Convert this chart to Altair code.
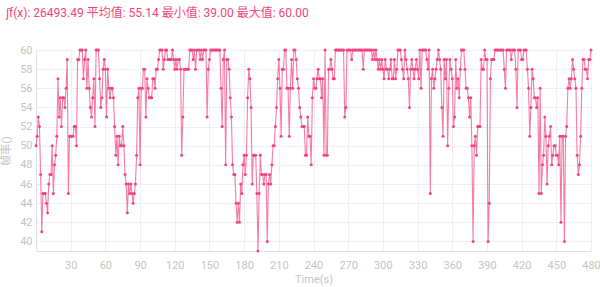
import altair as alt
import pandas as pd

# Frame rate sampled once per second over an 8-minute session
fps = [
    50, 51, 53, 52, 47, 41, 45, 45, 45, 44,
    43, 46, 47, 47, 50, 45, 48, 49, 51, 57,
    53, 55, 52, 55, 55, 54, 56, 59, 45, 51,
    51, 51, 51, 52, 52, 50, 59, 59, 60, 60,
    60, 57, 59, 60, 56, 59, 56, 54, 53, 55,
    57, 52, 60, 60, 60, 57, 54, 55, 58, 59,
    58, 53, 58, 56, 55, 56, 56, 55, 52, 49,
    51, 48, 51, 50, 50, 52, 50, 47, 46, 43,
    46, 45, 46, 45, 44, 45, 46, 49, 55, 56,
    48, 56, 56, 58, 58, 53, 57, 56, 55, 55,
    55, 57, 57, 56, 58, 58, 59, 60, 60, 60,
    58, 59, 60, 60, 59, 59, 59, 59, 60, 59,
    58, 59, 58, 59, 59, 58, 49, 53, 58, 58,
    58, 58, 58, 60, 60, 60, 59, 60, 58, 60,
    60, 60, 59, 60, 59, 60, 60, 60, 53, 58,
    59, 60, 60, 60, 60, 60, 60, 60, 60, 60,
    56, 52, 59, 60, 48, 59, 59, 58, 55, 53,
    48, 47, 47, 44, 42, 44, 42, 46, 45, 48,
    49, 47, 49, 55, 58, 57, 54, 46, 49, 49,
    49, 45, 39, 45, 49, 47, 47, 46, 47, 47,
    40, 46, 47, 46, 48, 50, 50, 52, 54, 57,
    59, 56, 51, 58, 58, 60, 60, 56, 56, 51,
    56, 59, 56, 60, 60, 59, 57, 56, 54, 53,
    52, 52, 52, 49, 49, 53, 51, 51, 48, 55,
    57, 56, 56, 57, 58, 57, 57, 55, 57, 49,
    60, 49, 49, 58, 58, 59, 58, 57, 57, 60,
    60, 60, 60, 60, 60, 60, 60, 53, 54, 60,
    60, 60, 60, 59, 60, 60, 60, 60, 60, 60,
    60, 60, 60, 58, 60, 60, 60, 60, 60, 60,
    60, 59, 60, 59, 60, 59, 58, 59, 58, 59,
    58, 57, 59, 58, 58, 57, 58, 59, 57, 57,
    59, 57, 58, 60, 60, 60, 59, 58, 57, 60,
    59, 58, 57, 54, 58, 59, 58, 57, 58, 59,
    58, 57, 60, 56, 60, 60, 60, 60, 59, 58,
    60, 45, 57, 58, 56, 57, 58, 59, 60, 59,
    58, 54, 51, 59, 57, 59, 50, 56, 59, 58,
    57, 52, 53, 59, 56, 57, 55, 58, 60, 60,
    60, 58, 56, 56, 55, 53, 55, 50, 40, 50,
    51, 49, 52, 52, 52, 59, 58, 58, 60, 59,
    59, 40, 44, 57, 59, 59, 59, 60, 60, 60,
    60, 60, 60, 60, 60, 58, 56, 60, 60, 60,
    60, 59, 60, 60, 60, 58, 54, 60, 60, 60,
    59, 59, 60, 60, 60, 58, 56, 51, 54, 58,
    57, 55, 55, 54, 55, 45, 56, 45, 48, 49,
    53, 51, 46, 50, 51, 52, 48, 49, 50, 50,
    49, 49, 48, 51, 42, 51, 51, 40, 51, 52,
    56, 57, 56, 57, 59, 58, 57, 56, 49, 47,
    48, 51, 56, 59, 59, 58, 58, 57, 59, 59,
    60,
]
seconds = list(range(len(fps)))

x_ticks = [30, 60, 90, 120, 150, 180, 210, 240, 270, 300, 330, 360, 390, 420, 450, 480]
y_ticks = [40, 42, 44, 46, 48, 50, 52, 54, 56, 58, 60]

summary = "∫f(x): 26493.49 平均值: 55.14 最小值: 39.00 最大值: 60.00"

PINK = "#f2447c"
FONT = "Roboto, 'Noto Sans CJK SC', sans-serif"

df = pd.DataFrame({"t": seconds, "fps": fps})

base = alt.Chart(df).encode(
    x=alt.X(
        "t:Q",
        scale=alt.Scale(domain=[0, 480], nice=False, zero=False),
        axis=alt.Axis(
            title="Time(s)",
            values=x_ticks,
            ticks=False,
            labelFlush=False,
            labelPadding=8,
            titlePadding=3,
        ),
    ),
    y=alt.Y(
        "fps:Q",
        scale=alt.Scale(domain=[39, 60], nice=False, zero=False),
        axis=alt.Axis(
            title="帧率()",
            values=y_ticks,
            ticks=False,
            labelFlush=False,
            labelPadding=4,
            titlePadding=8,
        ),
    ),
)

line = base.mark_line(color=PINK, strokeWidth=1.1, opacity=0.7)
dots = base.mark_circle(color=PINK, size=9, opacity=1)

chart = (
    alt.layer(line, dots)
    .properties(
        width=555,
        height=201,
        padding={"left": 36, "top": 50, "right": 9, "bottom": 36},
        autosize=alt.AutoSizeParams(type="none"),
        title=alt.TitleParams(
            text=summary,
            anchor="start",
            frame="group",
            dx=-30,
            offset=24,
            fontSize=12,
            fontWeight="normal",
            color=PINK,
            font=FONT,
        ),
    )
    .configure_view(stroke=None)
    .configure_axis(
        labelFont=FONT,
        titleFont=FONT,
        labelColor="#c4c4c4",
        titleColor="#c4c4c4",
        labelFontSize=11,
        titleFontSize=11,
        titleFontWeight="normal",
        gridColor="#efefef",
        gridWidth=1,
        domainColor="#e2e2e2",
        domainWidth=1,
    )
)

chart.save("out.html", embed_options={"renderer": "svg", "actions": False})
